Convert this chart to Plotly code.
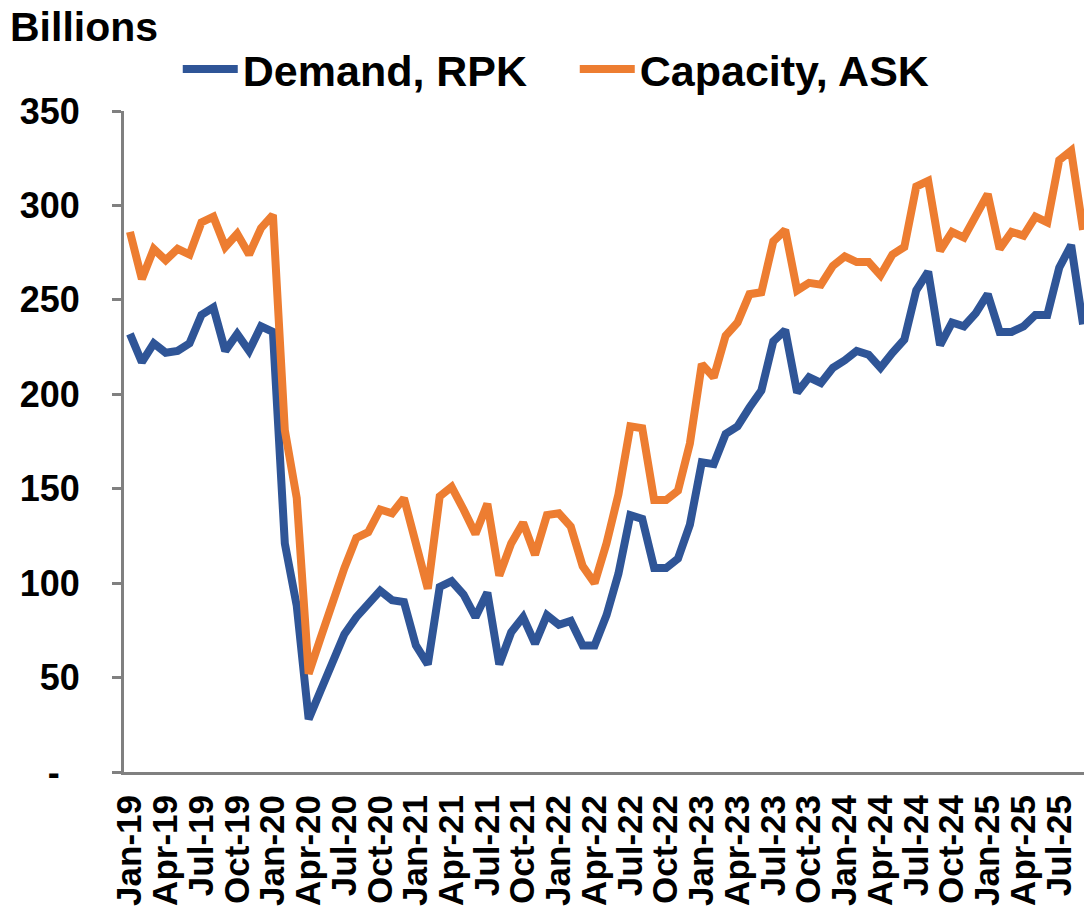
import plotly.graph_objects as go

# ---- data ----
years = ["19", "20", "21", "22", "23", "24", "25"]
month_names = ["Jan", "Feb", "Mar", "Apr", "May", "Jun", "Jul", "Aug", "Sep", "Oct", "Nov", "Dec"]
months = [f"{m}-{y}" for y in years for m in month_names][:81]  # Jan-19 .. Sep-25

demand_rpk = [232, 217, 227, 222, 223, 227, 242, 246, 223, 232, 223, 236, 233,
              121, 88, 28, 43, 58, 73, 82, 89, 96, 91, 90, 67, 57, 98, 101,
              94, 82, 95, 57, 74, 82, 68, 83, 78, 80, 67, 67, 83, 105, 136, 134, 108,
              108, 113, 131,
              164, 163, 179, 183, 193, 202, 228, 234, 201, 209, 206, 214, 218,
              223, 221, 214, 222, 229, 255, 265, 226, 238, 236, 243, 253, 233, 233,
              236, 242, 242, 267, 279, 237]

capacity_ask = [286, 261, 277, 271, 277, 274, 291, 294, 278, 285, 274, 288, 295,
                181, 145, 52, 71, 90, 108, 124, 127, 139, 137, 145, 119, 97, 146, 151,
                139, 126, 142, 104, 121, 132, 115, 136, 137, 130, 109, 100, 121, 147, 183, 182, 144,
                144, 149, 174,
                216, 209, 231, 238, 253, 254, 281, 287, 255, 259, 258, 268, 273,
                270, 270, 263, 274, 278, 310, 313, 276, 286, 283, 294, 306, 277, 286,
                284, 294, 291, 324, 329, 287]

x_tick_labels = months[::3]
y_tick_values = [0, 50, 100, 150, 200, 250, 300, 350]
y_tick_labels = ["-\u00a0\u00a0", "50", "100", "150", "200", "250", "300", "350"]

# ---- style ----
FONT = "Arial, Liberation Sans, sans-serif"
BLUE = "#2F5597"
ORANGE = "#ED7D31"
GREY = "#808080"
XRANGE = [-0.5, 80.08]

fig = go.Figure()
fig.add_trace(go.Scatter(x=months, y=demand_rpk, name="Demand, RPK", mode="lines",
                         line=dict(color=BLUE, width=8)))
fig.add_trace(go.Scatter(x=months, y=capacity_ask, name="Capacity, ASK", mode="lines",
                         line=dict(color=ORANGE, width=8)))

boundaries = [k - 0.5 for k in range(0, len(months), 3)]

fig.update_layout(
    width=1084, height=912,
    margin=dict(l=124, r=0, t=111, b=140, autoexpand=False),
    plot_bgcolor="white", paper_bgcolor="white",
    font=dict(family=FONT, color="black"),
    showlegend=True,
    legend=dict(orientation="h", x=0.056, xanchor="left", y=1.0635, yanchor="middle",
                font=dict(size=43, family=FONT, color="black", weight="bold"),
                bgcolor="rgba(0,0,0,0)", itemwidth=55,
                entrywidth=327, entrywidthmode="pixels"),
    xaxis=dict(type="category", categoryorder="array", categoryarray=months,
               range=XRANGE, tickmode="array", tickvals=x_tick_labels, ticktext=x_tick_labels,
               tickangle=-90, ticks="outside", ticklen=6, tickcolor="rgba(0,0,0,0)",
               showline=True, linecolor=GREY, linewidth=3, showgrid=False, zeroline=False,
               automargin=False,
               tickfont=dict(size=35, family=FONT, color="black", weight="bold")),
    xaxis2=dict(overlaying="x", anchor="y", side="bottom", type="linear", range=XRANGE,
                tickmode="array", tickvals=boundaries, ticks="outside", ticklen=11, tickwidth=3,
                tickcolor=GREY, showticklabels=False, showline=False, showgrid=False,
                zeroline=False, automargin=False),
    xaxis3=dict(overlaying="x", anchor="y", side="bottom", type="linear", range=XRANGE,
                tickmode="array", tickvals=boundaries, ticks="inside", ticklen=11, tickwidth=3,
                tickcolor=GREY, showticklabels=False, showline=False, showgrid=False,
                zeroline=False, automargin=False),
    yaxis=dict(range=[0, 350], tickmode="array", tickvals=y_tick_values, ticktext=y_tick_labels,
               ticks="outside", ticklen=9, tickwidth=3, tickcolor=GREY,
               showline=True, linecolor=GREY, linewidth=3, showgrid=False, zeroline=False,
               ticklabelstandoff=25, automargin=False,
               tickfont=dict(size=36, family=FONT, color="black", weight="bold")),
    annotations=[dict(text="Billions", xref="paper", yref="paper", x=-0.121, y=1.127,
                      xanchor="left", yanchor="middle", showarrow=False,
                      font=dict(size=41, family=FONT, color="black", weight="bold"))],
)

# remove the page's default body margin so the 1084x912 figure fills the window exactly
fig.write_html("out.html",
               config={"displayModeBar": False},
               post_script="document.body.style.margin='0';document.body.style.overflow='hidden';")
